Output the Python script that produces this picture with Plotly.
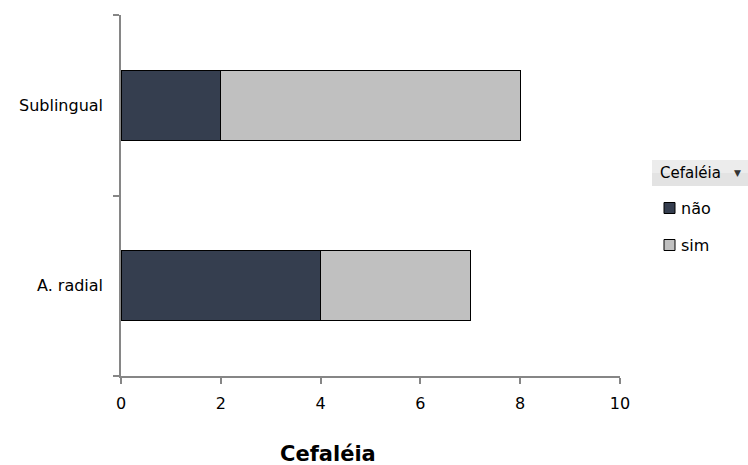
import plotly.graph_objects as go

categories = ["A. radial", "Sublingual"]
nao = [4, 2]
sim = [3, 6]
series_names = ["não", "sim"]
series_colors = ["#353e4f", "#c0c0c0"]
legend_title = "Cefaléia"
x_ticks = [0, 2, 4, 6, 8, 10]

W, H = 748, 465
L, R, T, B = 121, 128, 15, 89
PW, PH = W - L - R, H - T - B


def px(x):
    return (x - L) / PW


def py(y):
    return (H - B - y) / PH


TICK_FONT = dict(family="DejaVu Sans, Verdana, sans-serif", size=16, color="#000000")

fig = go.Figure()
for name, vals, col in zip(series_names, [nao, sim], series_colors):
    fig.add_trace(go.Bar(
        y=categories, x=vals, name=name, orientation="h",
        marker=dict(color=col, line=dict(color="#000000", width=1)),
        width=0.39, showlegend=False,
    ))

fig.update_layout(
    width=W, height=H,
    margin=dict(l=L, r=R, t=T, b=B),
    barmode="stack",
    plot_bgcolor="white", paper_bgcolor="white",
    font=TICK_FONT,
    xaxis=dict(
        range=[0, 10], tickvals=x_ticks, showgrid=False, zeroline=False,
        showline=True, linecolor="#868686", linewidth=1.5,
        ticks="outside", ticklen=6, tickcolor="#868686", tickwidth=1.5,
        tickfont=TICK_FONT, ticklabelstandoff=6,
    ),
    yaxis=dict(
        categoryorder="array", categoryarray=categories, range=[-0.5, 1.5],
        showgrid=False, zeroline=False,
        showline=True, linecolor="#868686", linewidth=1.5,
        ticks="outside", ticklen=6, tickcolor="#868686", tickwidth=1.5,
        tickson="boundaries", tickfont=TICK_FONT, ticklabelstandoff=13,
    ),
)

# axis title below the plot
fig.add_annotation(
    text="<b>Cefaléia</b>", xref="paper", yref="paper",
    x=px(328), y=py(454),
    xanchor="center", yanchor="middle", showarrow=False,
    font=dict(family="DejaVu Sans, Arial, sans-serif", size=21, color="#000000"),
)

# legend header button with a soft two-tone background
fig.add_shape(
    type="rect", xref="paper", yref="paper",
    x0=px(652), x1=px(748), y0=py(186), y1=py(160),
    fillcolor="#e3e3e3", line=dict(width=0), layer="below",
)
fig.add_shape(
    type="rect", xref="paper", yref="paper",
    x0=px(652), x1=px(748), y0=py(173), y1=py(160),
    fillcolor="#ececec", line=dict(width=0), layer="below",
)
fig.add_annotation(
    text=legend_title, xref="paper", yref="paper",
    x=px(658), y=py(173),
    xanchor="left", yanchor="middle", showarrow=False,
    font=dict(family="DejaVu Sans, Verdana, sans-serif", size=15, color="#000000"),
)
fig.add_annotation(
    text="▼", xref="paper", yref="paper",
    x=px(737), y=py(173),
    xanchor="center", yanchor="middle", showarrow=False,
    font=dict(family="DejaVu Sans, sans-serif", size=9, color="#333333"),
)

# legend entries
for i, (name, col) in enumerate(zip(series_names, series_colors)):
    cy = 208 + i * 37
    fig.add_shape(
        type="rect", xref="paper", yref="paper",
        x0=px(664), x1=px(675), y0=py(cy + 5.5), y1=py(cy - 5.5),
        fillcolor=col, line=dict(color="#000000", width=1),
    )
    fig.add_annotation(
        text=name, xref="paper", yref="paper",
        x=px(679), y=py(cy),
        xanchor="left", yanchor="middle", showarrow=False,
        font=TICK_FONT,
    )

fig.write_html("out.html")
